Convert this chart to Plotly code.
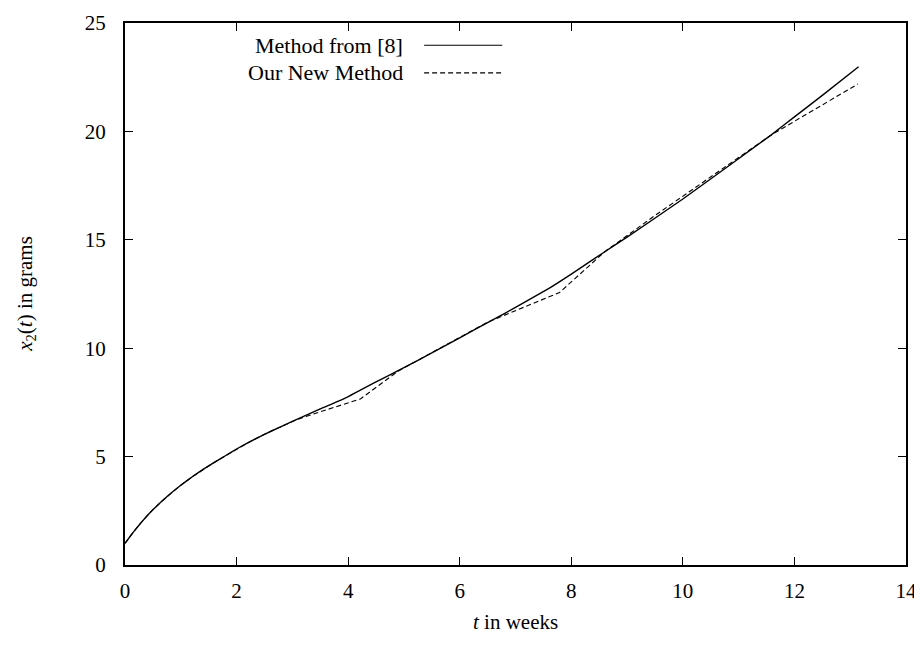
import plotly.graph_objects as go

# Method from [8] (solid)
t_ref = [0, 0.1, 0.2, 0.3, 0.4, 0.5, 0.65, 0.8, 1.0, 1.2, 1.4, 1.6, 1.8, 2.0, 2.25, 2.5, 2.75,
         3.0, 3.5, 3.94, 4.5, 5.0, 5.5, 6.0, 6.5, 7.0, 7.6, 8.0, 8.6, 9.0, 10.0, 11.58, 12.0,
         12.5, 13.15]
x2_ref = [1.0, 1.35, 1.68, 1.99, 2.28, 2.55, 2.92, 3.26, 3.68, 4.06, 4.41, 4.73, 5.04, 5.35,
          5.7, 6.03, 6.33, 6.62, 7.2, 7.69, 8.45, 9.1, 9.78, 10.48, 11.18, 11.88, 12.76, 13.42,
          14.45, 15.12, 16.88, 19.83, 20.67, 21.66, 22.98]

# Our New Method (dashed)
t_new = [0, 0.1, 0.2, 0.3, 0.4, 0.5, 0.65, 0.8, 1.0, 1.2, 1.4, 1.6, 1.8, 2.0, 2.25, 2.5, 2.75,
         3.0, 3.3, 4.22, 4.9, 5.5, 6.0, 6.5, 7.79, 8.6, 9.5, 10.5, 11.58, 13.14]
x2_new = [1.0, 1.35, 1.68, 1.99, 2.28, 2.55, 2.92, 3.26, 3.68, 4.06, 4.41, 4.73, 5.04, 5.35,
          5.7, 6.03, 6.33, 6.62, 6.9, 7.66, 8.95, 9.8, 10.5, 11.2, 12.57, 14.45, 16.12, 17.92,
          19.83, 22.19]

legend_names = ["Method from [8]", "Our New Method"]
x_ticks = [0, 2, 4, 6, 8, 10, 12, 14]
y_ticks = [0, 5, 10, 15, 20, 25]
x_title = "<i>t</i> in weeks"
y_title = "<i>x</i><sub>2</sub>(<i>t</i>) in grams"

FONT = "Liberation Serif"
fig = go.Figure()
fig.add_trace(go.Scatter(x=t_ref, y=x2_ref, mode="lines", name=legend_names[0],
                         line=dict(color="black", width=1.4, shape="spline", smoothing=0.3),
                         showlegend=False))
fig.add_trace(go.Scatter(x=t_new, y=x2_new, mode="lines", name=legend_names[1],
                         line=dict(color="black", width=1.1, dash="5px,3px"), showlegend=False))

# legend imitation (gnuplot style: text right-aligned, sample on the right)
leg_y = [0.959, 0.908]
dashes = ["solid", "5px,3px"]
for name, yy, d in zip(legend_names, leg_y, dashes):
    fig.add_annotation(x=0.359, y=yy, xref="paper", yref="paper", text=name,
                       showarrow=False, xanchor="right", yanchor="middle",
                       font=dict(family=FONT, size=22, color="black"))
    fig.add_shape(type="line", xref="paper", yref="paper", x0=0.383, x1=0.483, y0=yy, y1=yy,
                  line=dict(color="black", width=1.1, dash=d))

# axis titles
fig.add_annotation(x=0.5, y=-0.105, xref="paper", yref="paper", text=x_title, showarrow=False,
                   xanchor="center", yanchor="middle", font=dict(family=FONT, size=21, color="black"))
fig.add_annotation(x=-0.127, y=0.5, xref="paper", yref="paper", text=y_title, showarrow=False,
                   textangle=-90, xanchor="center", yanchor="middle",
                   font=dict(family=FONT, size=21, color="black"))

axis_common = dict(showgrid=False, zeroline=False, showline=True, linecolor="black", linewidth=2,
                   mirror="allticks", ticks="inside", ticklen=8, tickwidth=1.2, tickcolor="black",
                   automargin=False, tickfont=dict(family=FONT, size=21, color="black"))
fig.update_xaxes(range=[0, 14], tickvals=x_ticks, ticktext=[str(v) for v in x_ticks],
                 ticklabelstandoff=6, **axis_common)
fig.update_yaxes(range=[0, 25], tickvals=y_ticks, ticktext=[str(v) for v in y_ticks],
                 ticklabelstandoff=13, **axis_common)
# page body has an 8px margin, so the figure is 8px smaller on each side
fig.update_layout(width=914, height=640, margin=dict(l=116.5, r=16, t=15.3, b=83),
                  plot_bgcolor="white", paper_bgcolor="white")
fig.write_html("out.html")
